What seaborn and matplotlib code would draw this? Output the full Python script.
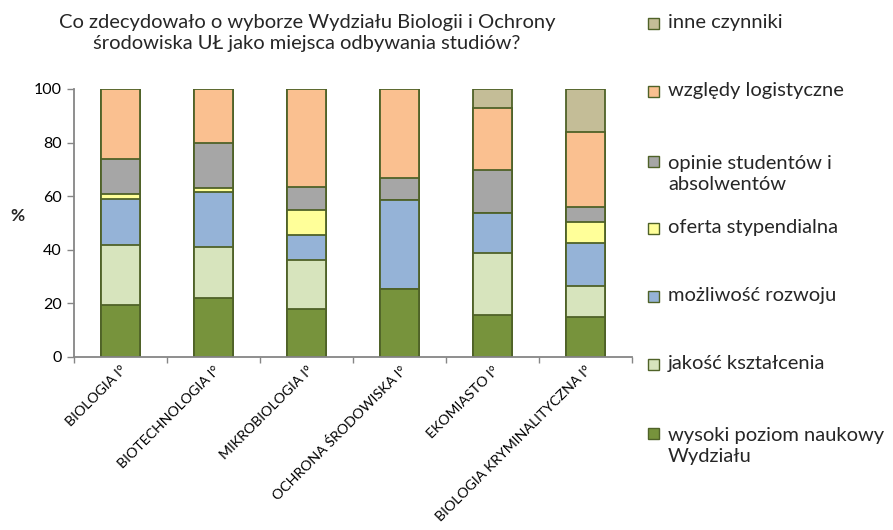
import matplotlib
matplotlib.use("Agg")
import matplotlib.pyplot as plt
import seaborn as sns
import pandas as pd
import numpy as np
from matplotlib.patches import Rectangle

categories = ["BIOLOGIA I°", "BIOTECHNOLOGIA I°", "MIKROBIOLOGIA I°",
              "OCHRONA ŚRODOWISKA I°", "EKOMIASTO I°", "BIOLOGIA KRYMINALITYCZNA I°"]

wysoki_poziom = [19.3, 22.2, 17.9, 25.3, 15.5, 14.8]
jakosc_ksztalcenia = [22.6, 18.7, 18.4, 0.0, 23.3, 11.8]
mozliwosc_rozwoju = [17.0, 20.6, 9.2, 33.3, 15.1, 16.1]
oferta_stypendialna = [1.8, 1.5, 9.2, 0.0, 0.0, 7.5]
opinie_studentow = [13.1, 17.0, 8.9, 8.1, 15.7, 5.6]
wzgledy_logistyczne = [26.2, 20.0, 36.4, 33.3, 23.2, 28.1]
inne_czynniki = [0.0, 0.0, 0.0, 0.0, 7.2, 16.1]

series_names = ["wysoki poziom naukowy\nWydziału", "jakość kształcenia", "możliwość rozwoju",
                "oferta stypendialna", "opinie studentów i\nabsolwentów",
                "względy logistyczne", "inne czynniki"]
series_values = [wysoki_poziom, jakosc_ksztalcenia, mozliwosc_rozwoju, oferta_stypendialna,
                 opinie_studentow, wzgledy_logistyczne, inne_czynniki]
colors = ["#77933C", "#D7E4BD", "#95B3D7", "#FFFF99", "#A6A6A6", "#FAC090", "#C4BD97"]

title = "Co zdecydowało o wyborze Wydziału Biologii i Ochrony\nśrodowiska UŁ jako miejsca odbywania studiów?"

sns.set_theme(style="white")
plt.rcParams["font.family"] = ["Lato", "DejaVu Sans"]

fig = plt.figure(figsize=(8.93, 5.30), dpi=100)
W, H = 893, 530
ax = fig.add_axes([74 / W, 1 - 357 / H, (632 - 74) / W, (357 - 89) / H])

cum = np.cumsum(np.array(series_values), axis=0)
for i in range(len(series_values) - 1, -1, -1):
    df = pd.DataFrame({"cat": categories, "val": cum[i]})
    sns.barplot(data=df, x="cat", y="val", order=categories, color=colors[i],
                width=0.41, edgecolor="#4F6228", linewidth=1.3, saturation=1, ax=ax)

ax.set_xlim(-0.5, len(categories) - 0.5)
ax.set_ylim(0, 100)
ax.set_yticks(range(0, 101, 20))
ax.set_xlabel("")
ax.set_ylabel("")

# ticks at category boundaries, labels at centres
ax.set_xticks(np.arange(-0.5, len(categories), 1.0))
ax.set_xticklabels([])
ax.set_xticks(np.arange(len(categories)), minor=True)
ax.set_xticklabels(categories, minor=True, rotation=45, ha="right",
                   rotation_mode="anchor", fontsize=10.2, color="#000000")
ax.tick_params(axis="x", which="minor", length=0, pad=5)
ax.tick_params(axis="x", which="major", length=4, width=1, color="#868686", direction="out", bottom=True)
ax.tick_params(axis="y", length=5, width=1, color="#868686", direction="out", left=True,
               labelsize=11.5, labelcolor="#000000", pad=4)

for s in ["top", "right"]:
    ax.spines[s].set_visible(False)
for s in ["left", "bottom"]:
    ax.spines[s].set_color("#868686")
    ax.spines[s].set_linewidth(1.3)
ax.grid(False)

fig.text(17 / W, 1 - 216 / H, "%", fontsize=12.5, fontweight="bold", ha="center", va="center")
fig.text(307 / W, 1 - 33 / H, title, fontsize=14.5, ha="center", va="center", linespacing=1.3)

# legend (top to bottom: reverse of stacking order)
leg_y = [23, 91, 161, 228, 296, 364, 433]
line_step = 24
for k, idx in enumerate(range(len(series_names) - 1, -1, -1)):
    y = leg_y[k]
    n_lines = series_names[idx].count("\n") + 1
    fig.patches.append(Rectangle((648 / W, 1 - (y + 6) / H), 11 / W, 11 / H,
                                 transform=fig.transFigure, facecolor=colors[idx],
                                 edgecolor="#4F6228", linewidth=1))
    fig.text(668 / W, 1 - (y + 5 + (n_lines - 1) * line_step) / H, series_names[idx],
             fontsize=14.5, ha="left", va="baseline", linespacing=1.3)

fig.savefig("out.png", dpi=100)
